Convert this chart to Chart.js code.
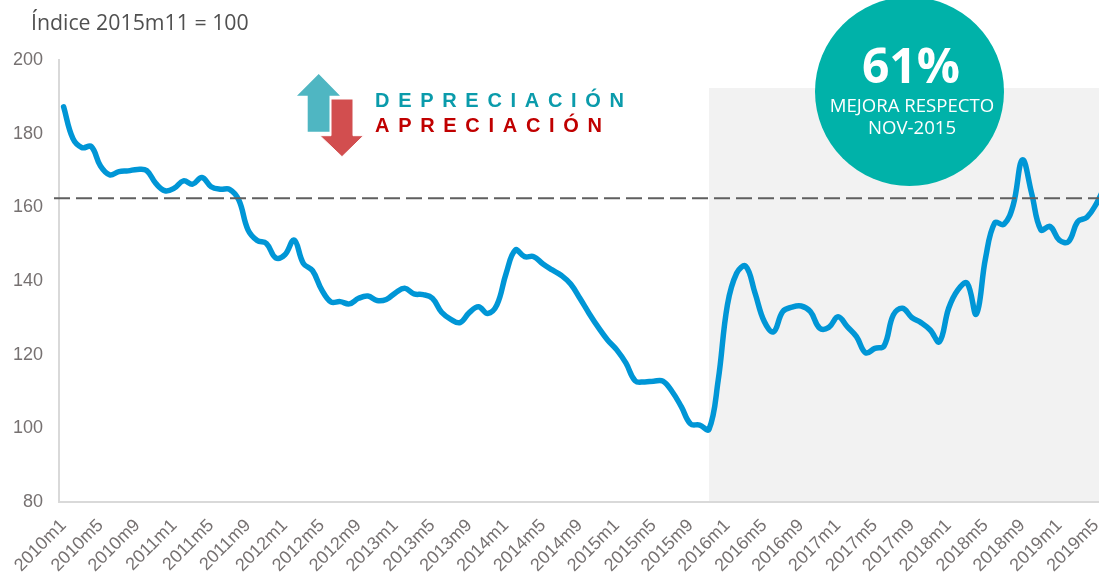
<!DOCTYPE html>
<html lang="es">
<head>
<meta charset="utf-8">
<style>
html,body{margin:0;padding:0;width:1099px;height:574px;overflow:hidden;background:#fff}
#wrap{position:relative;width:1099px;height:574px;overflow:hidden}
#c{position:absolute;left:0;top:0}
.t{position:absolute;white-space:nowrap}
#title{left:31px;top:7px;font:21.3px "Open Sans",sans-serif;color:#505050}
#circle{position:absolute;left:814.5px;top:-3px;width:189px;height:189px;border-radius:50%;background:#00b2a9}
#pct{left:816.5px;width:189px;text-align:center;top:32px;font:bold 48px "Open Sans",sans-serif;color:#fff}
#m1{left:814.5px;width:195px;text-align:center;top:92px;font:18.6px "Open Sans",sans-serif;color:#fff}
#m2{left:814.5px;width:195px;text-align:center;top:114px;font:18.6px "Open Sans",sans-serif;color:#fff}
#dep{left:375px;top:89px;font:bold 20px "Liberation Sans",sans-serif;letter-spacing:8.7px;color:#0a9bab}
#apr{left:375px;top:114px;font:bold 20px "Liberation Sans",sans-serif;letter-spacing:8.7px;color:#c00000}
#arrows{position:absolute;left:0;top:0}
</style>
</head>
<body>
<div id="wrap">
<canvas id="c" width="1110" height="574" style="width:1110px;height:574px"></canvas>
<div id="title" class="t">Índice 2015m11 = 100</div>
<div id="circle"></div>
<div id="pct" class="t">61%</div>
<div id="m1" class="t">MEJORA RESPECTO</div>
<div id="m2" class="t">NOV-2015</div>
<svg id="arrows" width="1099" height="574">
<polygon points="318.7,74 340,95.7 329.5,95.7 329.5,131.7 307.7,131.7 307.7,95.7 297,95.7" fill="#4fb6c2"/>
<polygon points="331,99 353,99 353,135.7 363.5,135.7 342,156.7 320,135.7 331,135.7" fill="#d24e4f" stroke="#fff" stroke-width="1"/>
</svg>
<div id="dep" class="t">DEPRECIACIÓN</div>
<div id="apr" class="t">APRECIACIÓN</div>
</div>
<script src="https://cdn.jsdelivr.net/npm/chart.js@4"></script>
<script>
const months = [
'2010m1','2010m2','2010m3','2010m4','2010m5','2010m6','2010m7','2010m8','2010m9','2010m10','2010m11','2010m12',
'2011m1','2011m2','2011m3','2011m4','2011m5','2011m6','2011m7','2011m8','2011m9','2011m10','2011m11','2011m12',
'2012m1','2012m2','2012m3','2012m4','2012m5','2012m6','2012m7','2012m8','2012m9','2012m10','2012m11','2012m12',
'2013m1','2013m2','2013m3','2013m4','2013m5','2013m6','2013m7','2013m8','2013m9','2013m10','2013m11','2013m12',
'2014m1','2014m2','2014m3','2014m4','2014m5','2014m6','2014m7','2014m8','2014m9','2014m10','2014m11','2014m12',
'2015m1','2015m2','2015m3','2015m4','2015m5','2015m6','2015m7','2015m8','2015m9','2015m10','2015m11','2015m12',
'2016m1','2016m2','2016m3','2016m4','2016m5','2016m6','2016m7','2016m8','2016m9','2016m10','2016m11','2016m12',
'2017m1','2017m2','2017m3','2017m4','2017m5','2017m6','2017m7','2017m8','2017m9','2017m10','2017m11','2017m12',
'2018m1','2018m2','2018m3','2018m4','2018m5','2018m6','2018m7','2018m8','2018m9','2018m10','2018m11','2018m12',
'2019m1','2019m2','2019m3','2019m4','2019m5','2019m6'];
const indice = [
187.3,178.7,176.2,176.5,171.2,168.8,169.7,169.9,170.3,170.0,166.5,164.5,
165.2,167.2,166.3,168.1,165.6,164.9,164.9,162.0,153.9,151.0,150.2,146.3,
147.1,151.1,144.8,142.8,137.6,134.3,134.4,133.8,135.3,135.9,134.7,135.0,
136.8,138.0,136.5,136.3,135.3,131.5,129.6,128.7,131.4,133.0,131.2,133.5,
142.1,148.4,146.6,146.6,144.6,143.0,141.5,139.2,135.3,131.2,127.4,124.0,
121.3,117.7,112.9,112.6,112.8,112.8,110.0,105.9,101.2,100.9,99.7,113.0,
133.5,142.1,144.0,136.7,129.0,126.2,131.7,132.9,133.2,131.7,127.2,127.4,
130.3,127.6,124.9,120.5,121.7,122.4,130.8,132.6,130.1,128.7,126.7,123.5,
132.6,137.6,139.4,131.0,146.2,155.8,155.4,160.6,172.9,163.8,153.9,154.8,
151.1,150.7,156.1,157.3,160.9,166.0];
const yTicks = [80,100,120,140,160,180,200];
const nivelReferencia = [162.5];
const sombraDesde = ['2015m11'];
const sombraTecho = [192.4];

const overlay = {
  id:'overlay',
  beforeDatasetsDraw(ch){
    const {ctx,scales:{x,y},chartArea:a}=ch;
    const l=x.getPixelForValue(sombraDesde[0]), t=y.getPixelForValue(sombraTecho[0]);
    ctx.save();ctx.fillStyle='#f2f2f2';ctx.fillRect(l,t,a.right-l,a.bottom-1-t);ctx.restore();
  },
  afterDatasetsDraw(ch){
    const {ctx,scales:{y},chartArea:a}=ch;
    const py=y.getPixelForValue(nivelReferencia[0]);
    ctx.save();ctx.strokeStyle='#5f5f5f';ctx.lineWidth=2;ctx.setLineDash([16,6]);
    ctx.beginPath();ctx.moveTo(54,py);ctx.lineTo(a.right,py);ctx.stroke();ctx.restore();
  }
};

new Chart(document.getElementById('c'),{
  type:'line',
  data:{labels:months,datasets:[{data:indice,borderColor:'#0096d6',borderWidth:5.5,pointRadius:0,tension:0.4,cubicInterpolationMode:'default',borderCapStyle:'round',borderJoinStyle:'round',clip:false}]},
  plugins:[overlay],
  options:{
    responsive:false,animation:false,
    layout:{padding:{top:60,left:0,right:0,bottom:0}},
    plugins:{legend:{display:false},tooltip:{enabled:false},title:{display:false}},
    scales:{
      x:{type:'category',offset:true,
        grid:{display:false,drawTicks:false},
        border:{display:true,color:'#d9d9d9',width:2},
        afterFit(s){s.height=72;s.paddingRight=0;s.paddingLeft=0;},
        ticks:{autoSkip:false,maxRotation:45,minRotation:45,padding:13,color:'#767171',
          font:{family:'"Liberation Sans",sans-serif',size:18},
          callback(v,i){return (i%4===0 && i<113)?months[i]:'';}}},
      y:{min:80,max:200,
        afterFit(s){s.width=59;},
        afterBuildTicks(s){s.ticks=yTicks.map(v=>({value:v}));},
        grid:{display:false,drawTicks:false},
        border:{display:true,color:'#d9d9d9',width:2},
        ticks:{padding:16,color:'#767171',font:{family:'"Liberation Sans",sans-serif',size:18}}}
    }
  }
});
</script>
</body>
</html>
